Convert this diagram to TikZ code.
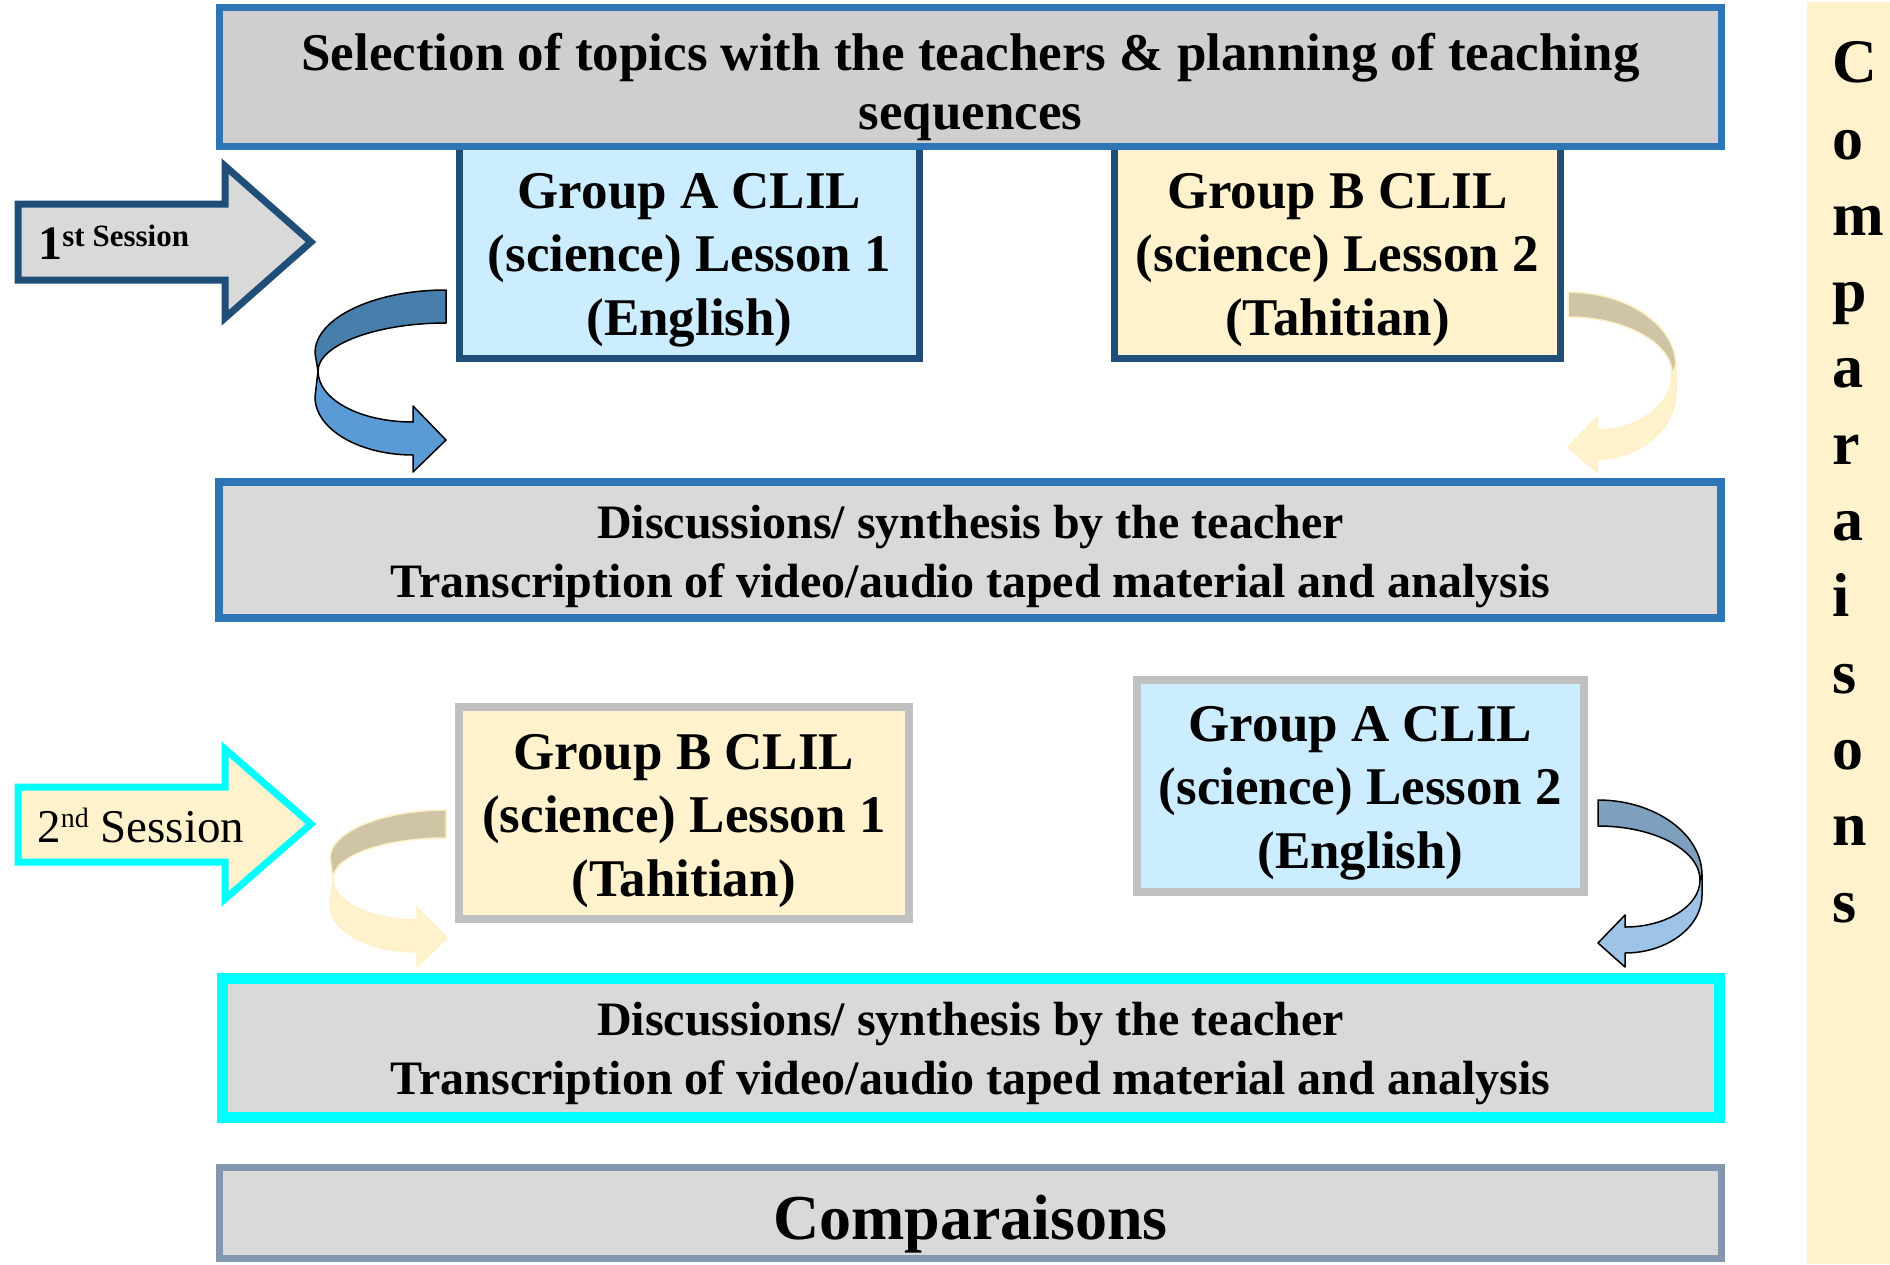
\documentclass[tikz,border=0pt]{standalone}
\usepackage{fontspec}
\setmainfont{Liberation Serif}
\usetikzlibrary{fit}
\definecolor{topfill}{HTML}{D0CECE}
\definecolor{topline}{HTML}{2E75B6}
\definecolor{navy}{HTML}{1F4E79}
\definecolor{lblue}{HTML}{CCECFF}
\definecolor{beige}{HTML}{FFF2CC}
\definecolor{greyline}{HTML}{C0C0C0}
\definecolor{dgray}{HTML}{D9D9D9}
\definecolor{compline}{HTML}{8497B0}
\definecolor{cyanline}{HTML}{00FFFF}
\definecolor{arrAdark}{HTML}{477EAB}
\definecolor{arrAlight}{HTML}{5B9BD5}
\definecolor{arrBdark}{HTML}{7F9FBF}
\definecolor{arrBlight}{HTML}{9DC3E6}
\definecolor{tan}{HTML}{CFC4A5}
\definecolor{tanedge}{HTML}{FFF0C6}
\begin{document}
\begin{tikzpicture}[x=0.5pt,y=-0.5pt,
  box/.style={rectangle,inner sep=0pt,outer sep=0pt},
  txt/.style={inner sep=0pt,align=center,anchor=base},
  grpfont/.style={font=\fontsize{26.5}{31.75}\selectfont\bfseries},
  disfont/.style={font=\fontsize{24}{29.5}\selectfont\bfseries},
  ribbon/.style={line width=0.75pt,line join=round},
  sessarrow/.style={line width=3.5pt,line join=miter}]
\useasboundingbox (0,0) rectangle (1890,1264);

% right strip
\node[box,fill=beige,fit={(1807,2) (1890,1264)}] (strip) {};
\node[inner sep=0pt,anchor=base west,align=left,font=\fontsize{31}{38.15}\selectfont\bfseries] (vtext) at (1832,922)
 {C\\o\\m\\p\\a\\r\\a\\i\\s\\o\\n\\s};

% group boxes of first session (under the top box)
\node[box,draw=navy,fill=lblue,line width=3.5pt,fit={(459.5,140) (919.5,358.5)}] (gA1) {};
\node[box,draw=navy,fill=beige,line width=3.5pt,fit={(1114.5,140) (1560.5,358.5)}] (gB1) {};
\node[txt,grpfont] (tA1) at (689.5,335) {Group A CLIL\\(science) Lesson 1\\(English)};
\node[txt,grpfont] (tB1) at (1337.5,335) {Group B CLIL\\(science) Lesson 2\\(Tahitian)};

% top box
\node[box,draw=topline,fill=topfill,line width=3.5pt,fit={(219.5,7.5) (1721.5,146.5)}] (top) {};
\node[txt,font=\fontsize{26.5}{29.5}\selectfont\bfseries] (ttop) at (970.5,129)
 {Selection of topics with the teachers \& planning of teaching\\sequences};

% session arrows
\draw[sessarrow,draw=navy,fill=dgray] (18,204) -- (225,204) -- (225,166) -- (311,242) -- (225,318) -- (225,280) -- (18,280) -- cycle;
\node[inner sep=0pt,anchor=base west] (s1) at (38,259)
 {\fontsize{24}{24}\selectfont\bfseries 1\raisebox{6.5pt}{\fontsize{15.5}{15.5}\selectfont st Session}};
\draw[sessarrow,draw=cyanline,fill=beige] (18,787) -- (225,787) -- (225,749) -- (311,824) -- (225,899) -- (225,862) -- (18,862) -- cycle;
\node[inner sep=0pt,anchor=base west] (s2) at (37,842)
 {\fontsize{23.5}{23.5}\selectfont 2\raisebox{7.5pt}{\fontsize{14}{14}\selectfont nd} Session};

% curved arrow 1 (left, first session)
\filldraw[ribbon,fill=arrAdark] (446,290) .. controls (374,290) and (315,318) .. (315,353) -- (318,371)
  .. controls (318,345) and (376,323) .. (446,323) -- cycle;
\filldraw[ribbon,fill=arrAlight] (318,371) .. controls (318,399) and (359,422) .. (413,422) -- (413,406) -- (446,440)
  -- (413,472) -- (413,455) .. controls (359,455) and (315,429) .. (315,397) -- cycle;

% curved arrow 2 (right, first session)
\filldraw[ribbon,draw=tanedge,fill=tan] (1568,292) .. controls (1627,292) and (1676,325) .. (1676,366) -- (1672,374)
  .. controls (1672,343) and (1625,317) .. (1568,317) -- cycle;
\filldraw[ribbon,draw=tanedge,fill=beige] (1672,374) .. controls (1672,405) and (1638,430) .. (1597,430) -- (1597,417)
  -- (1568,447) -- (1597,472) -- (1597,459) .. controls (1640,459) and (1676,429) .. (1676,392) -- (1676,366) -- cycle;

% discussion box 1
\node[box,draw=topline,fill=dgray,line width=4pt,fit={(219,482) (1721,618)}] (dis1) {};
\node[txt,disfont] (tdis1) at (970.5,597)
 {Discussions/ synthesis by the teacher\\Transcription of video/audio taped material and analysis};

% group boxes of second session
\node[box,draw=greyline,fill=beige,line width=4pt,fit={(459,707) (909,919)}] (gB2) {};
\node[box,draw=greyline,fill=lblue,line width=4pt,fit={(1137,680) (1584,892)}] (gA2) {};
\node[txt,grpfont] (tB2) at (684,896) {Group B CLIL\\(science) Lesson 1\\(Tahitian)};
\node[txt,grpfont] (tA2) at (1360.5,868) {Group A CLIL\\(science) Lesson 2\\(English)};

% curved arrow 3 (left, second session)
\filldraw[ribbon,draw=tanedge,fill=tan] (446,810) .. controls (382,810) and (330,832) .. (330,858) -- (333,879)
  .. controls (333,856) and (384,838) .. (446,838) -- cycle;
\filldraw[ribbon,draw=tanedge,fill=beige] (333,879) .. controls (333,902) and (371,920) .. (417,920) -- (417,908) -- (447,938)
  -- (417,967) -- (417,952) .. controls (369,952) and (330,931) .. (330,905) -- cycle;

% curved arrow 4 (right, second session)
\filldraw[ribbon,fill=arrBdark] (1598,800) .. controls (1655,800) and (1702,834) .. (1702,875) -- (1700,880)
  .. controls (1700,850) and (1654,826) .. (1598,826) -- cycle;
\filldraw[ribbon,fill=arrBlight] (1700,880) .. controls (1700,906) and (1666,927) .. (1625,927) -- (1625,915) -- (1598,943)
  -- (1625,967) -- (1625,953) .. controls (1667,953) and (1702,927) .. (1702,895) -- (1702,875) -- cycle;

% discussion box 2
\node[box,draw=cyanline,fill=dgray,line width=5.5pt,fit={(222.5,978.5) (1719.5,1117.5)}] (dis2) {};
\node[txt,disfont] (tdis2) at (970.5,1094)
 {Discussions/ synthesis by the teacher\\Transcription of video/audio taped material and analysis};

% comparaisons box
\node[box,draw=compline,fill=dgray,line width=3.5pt,fit={(219.5,1167.5) (1721.5,1258.5)}] (comp) {};
\node[txt,font=\fontsize{32}{32}\selectfont\bfseries] (tcomp) at (970.5,1239) {Comparaisons};
\end{tikzpicture}
\end{document}
